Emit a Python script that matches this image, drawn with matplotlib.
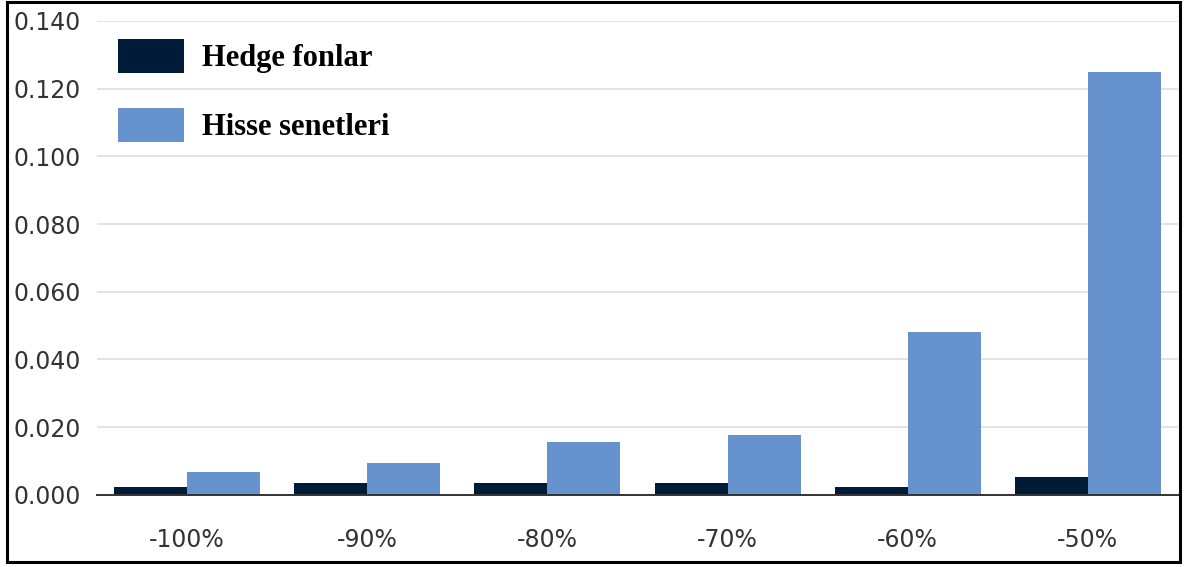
import matplotlib
matplotlib.use("Agg")
import matplotlib.pyplot as plt
from matplotlib.patches import Rectangle
import numpy as np

categories = ["-100%", "-90%", "-80%", "-70%", "-60%", "-50%"]
hedge_fonlar = [0.0022, 0.0035, 0.0035, 0.0035, 0.0022, 0.0052]
hisse_senetleri = [0.0067, 0.0093, 0.0156, 0.0175, 0.0480, 0.1250]
series_labels = ["Hedge fonlar", "Hisse senetleri"]
y_ticks = [0.000, 0.020, 0.040, 0.060, 0.080, 0.100, 0.120, 0.140]

W, H = 1195, 567
fig = plt.figure(figsize=(W / 100, H / 100), dpi=100)
fig.patch.set_facecolor("white")
ax = fig.add_axes([97 / W, (H - 494.7) / H, (1178 - 97) / W, (494.7 - 21) / H])

x = np.arange(len(categories))
bw = 0.405
ax.bar(x - bw / 2, hedge_fonlar, width=bw, color="#001B38", label=series_labels[0], zorder=3)
ax.bar(x + bw / 2, hisse_senetleri, width=bw, color="#6693CD", label=series_labels[1], zorder=3)

ax.set_xlim(-0.5, len(categories) - 0.5)
ax.set_ylim(0, 0.14)
ax.set_yticks(y_ticks)
ax.set_yticklabels([f"{v:.3f}" for v in y_ticks])
ax.set_xticks(x)
ax.set_xticklabels(categories)
for s in ["top", "right", "left"]:
    ax.spines[s].set_visible(False)
ax.spines["bottom"].set_color("#333333")
ax.spines["bottom"].set_linewidth(1.4)
ax.spines["bottom"].set_zorder(4)
ax.grid(axis="y", color="#e0e0e0", linewidth=1.3, zorder=0)
ax.tick_params(axis="y", length=0, pad=11.5, labelsize=17, labelcolor="#333333")
ax.tick_params(axis="x", length=0, pad=24, labelsize=17, labelcolor="#333333")
for lbl in ax.get_xticklabels() + ax.get_yticklabels():
    lbl.set_family("DejaVu Sans")

leg = ax.legend(loc="upper left", bbox_to_anchor=(21 / 1081, 1 - 18 / 473.7),
                frameon=False, borderaxespad=0, borderpad=0,
                prop={"family": "Liberation Serif", "weight": "bold", "size": 22},
                handlelength=2.16, handleheight=1.33, handletextpad=0.59,
                labelspacing=1.15)

fig.patches.append(Rectangle((7 / W, (H - 561.5) / H), (1180 - 7) / W, (561.5 - 1.5) / H,
                             transform=fig.transFigure, fill=False,
                             edgecolor="black", linewidth=2.2, zorder=10))

fig.savefig("out.png", dpi=100)
